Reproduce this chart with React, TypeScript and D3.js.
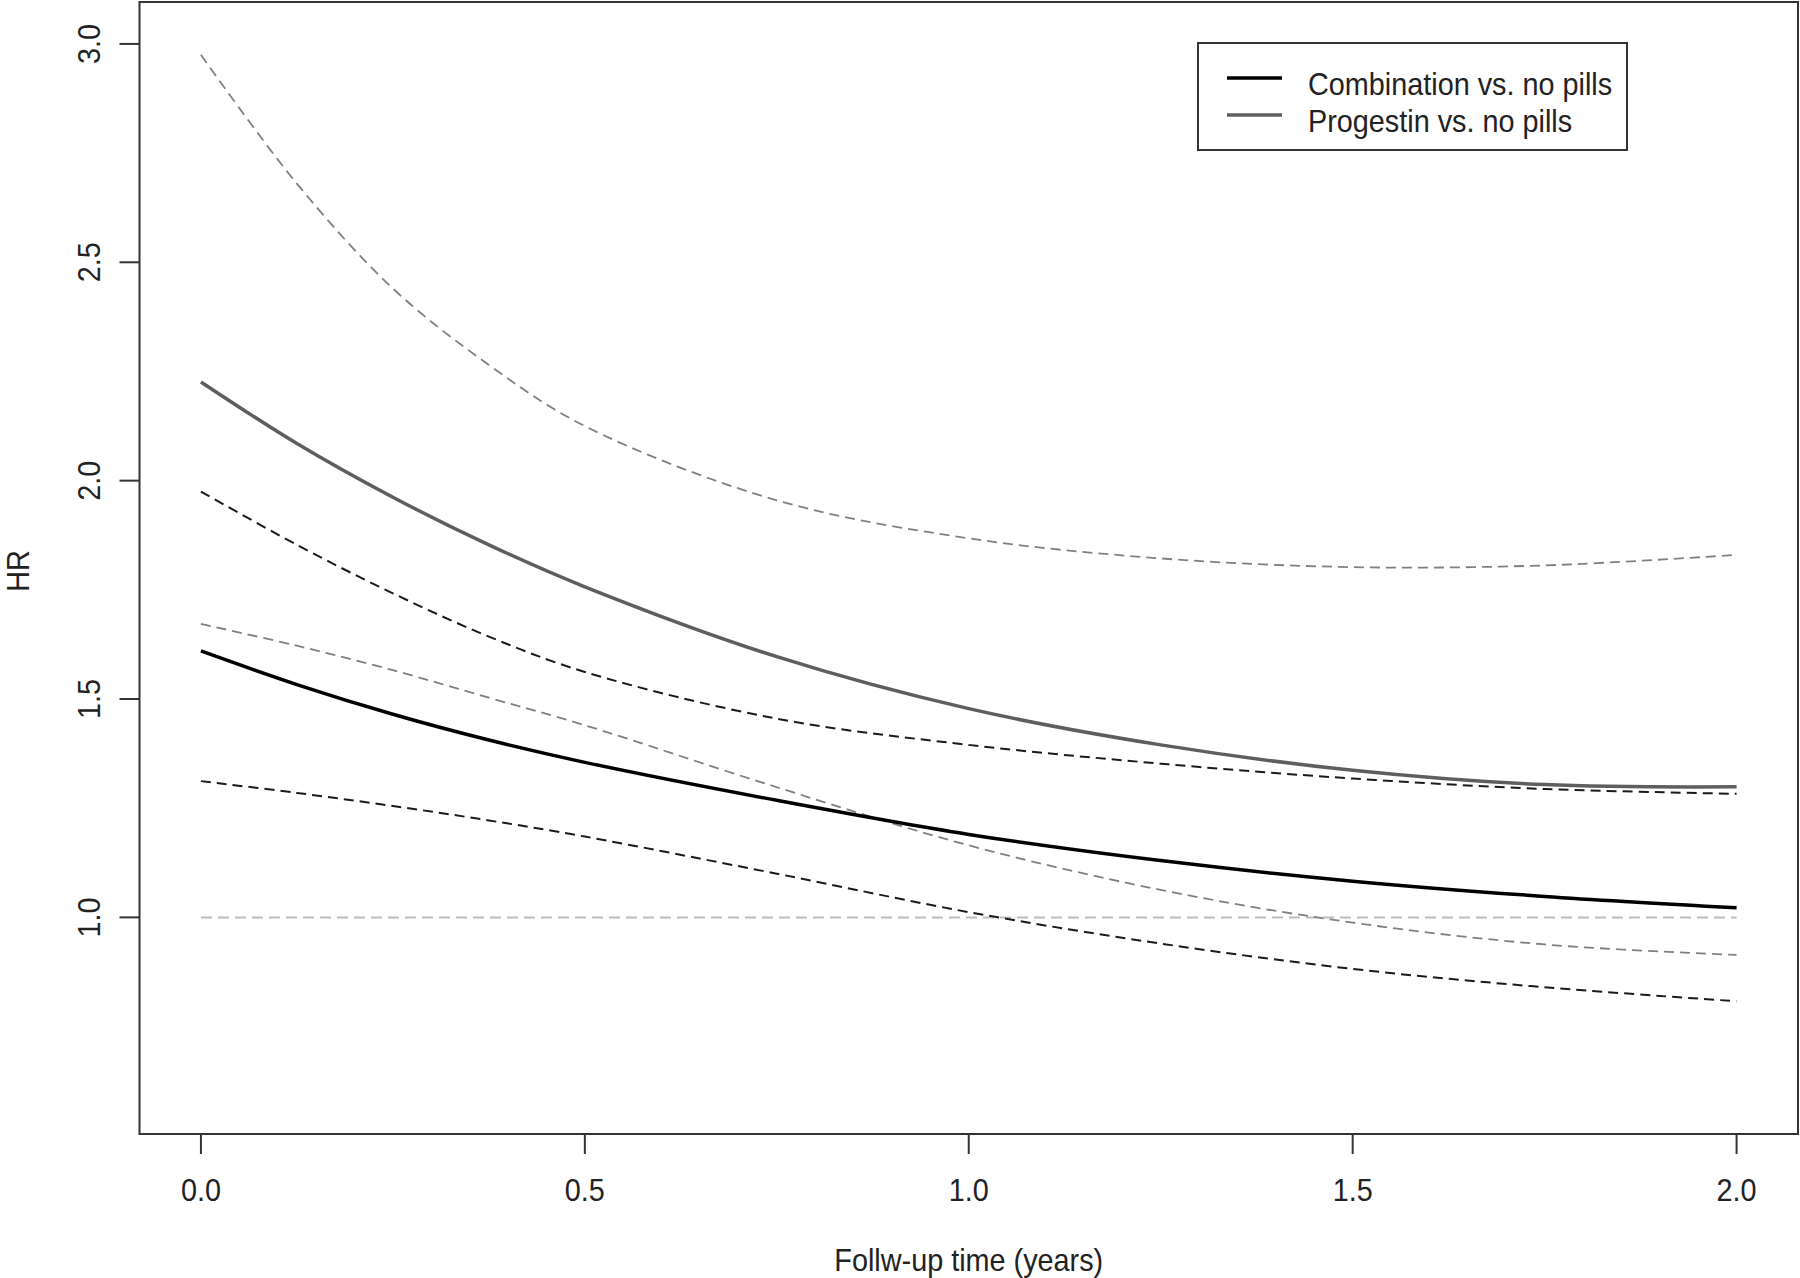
import React from "react";
import * as d3 from "d3";

// ---- data ----
const times = [0, 0.125, 0.25, 0.375, 0.5, 0.75, 1.0, 1.25, 1.5, 1.75, 2.0];
const progestinUpper = [2.975, 2.68, 2.44, 2.265, 2.125, 1.955, 1.868, 1.822, 1.802, 1.806, 1.83];
const progestinHR = [2.226, 2.085, 1.962, 1.853, 1.757, 1.597, 1.478, 1.395, 1.337, 1.304, 1.299];
const combinationUpper = [1.975, 1.853, 1.742, 1.643, 1.562, 1.455, 1.395, 1.352, 1.318, 1.294, 1.283];
const progestinLower = [1.672, 1.622, 1.566, 1.503, 1.44, 1.298, 1.165, 1.063, 0.988, 0.938, 0.914];
const combinationHR = [1.61, 1.533, 1.465, 1.406, 1.355, 1.268, 1.19, 1.13, 1.083, 1.048, 1.022];
const combinationLower = [1.312, 1.285, 1.255, 1.222, 1.185, 1.1, 1.012, 0.94, 0.882, 0.84, 0.808];
const referenceLine = [1.0, 1.0];
const referenceTimes = [0, 2];

const xTicks = [0, 0.5, 1.0, 1.5, 2.0];
const yTicks = [1.0, 1.5, 2.0, 2.5, 3.0];
const legendLabels = ["Combination vs. no pills", "Progestin vs. no pills"];
const xTitle = "Follw-up time (years)";
const yTitle = "HR";

const W = 1800;
const H = 1278;
const plot = { left: 139.5, right: 1798, top: 2, bottom: 1134 };

const FONT = "'Liberation Sans', Arial, Helvetica, sans-serif";
const FS = 32;
const SX = 0.9;

export default function App() {
  const x = d3.scaleLinear().domain([-0.08, 2.08]).range([plot.left, plot.right]);
  const y = d3.scaleLinear().domain([0.504, 3.096]).range([plot.bottom, plot.top]);

  const line = (ts: number[], vs: number[]) =>
    d3
      .line<number>()
      .x((_, i) => x(ts[i]))
      .y((v) => y(v))
      .curve(d3.curveCatmullRom.alpha(0.5))(vs) || "";

  const series = [
    { vals: progestinUpper, stroke: "#808080", width: 1.8, dash: "10 6" },
    { vals: progestinLower, stroke: "#808080", width: 1.8, dash: "10 6" },
    { vals: combinationUpper, stroke: "#1a1a1a", width: 2, dash: "10 6" },
    { vals: combinationLower, stroke: "#1a1a1a", width: 2, dash: "10 6" },
    { vals: progestinHR, stroke: "#5e5e5e", width: 3.5, dash: "" },
    { vals: combinationHR, stroke: "#000000", width: 3.5, dash: "" },
  ];

  const hText = (tx: number, ty: number, s: string, anchor: string, key?: any) => (
    <text
      key={key}
      transform={`translate(${tx},${ty}) scale(${SX},1)`}
      textAnchor={anchor as any}
      fontFamily={FONT}
      fontSize={FS}
      fill="#222"
    >
      {s}
    </text>
  );
  const vText = (tx: number, ty: number, s: string, key?: any) => (
    <text
      key={key}
      transform={`translate(${tx},${ty}) rotate(-90) scale(${SX},1)`}
      textAnchor="middle"
      fontFamily={FONT}
      fontSize={FS}
      fill="#222"
    >
      {s}
    </text>
  );

  const legend = { x: 1198, y: 43, w: 429, h: 107 };
  const legendItems = [
    { label: legendLabels[0], stroke: "#000000", ly: 78, ty: 95 },
    { label: legendLabels[1], stroke: "#5e5e5e", ly: 115, ty: 131.5 },
  ];

  return (
    <svg
      width={W}
      height={H}
      style={{ position: "absolute", left: 0, top: 0, background: "#fff" }}
    >
      <rect x={0} y={0} width={W} height={H} fill="#fff" />

      {/* reference line */}
      <path
        d={line(referenceTimes, referenceLine)}
        fill="none"
        stroke="#bdbdbd"
        strokeWidth={2}
        strokeDasharray="11 6"
      />

      {series.map((s, i) => (
        <path
          key={i}
          d={line(times, s.vals)}
          fill="none"
          stroke={s.stroke}
          strokeWidth={s.width}
          strokeDasharray={s.dash || undefined}
        />
      ))}

      {/* box */}
      <rect
        x={plot.left}
        y={plot.top}
        width={plot.right - plot.left}
        height={plot.bottom - plot.top}
        fill="none"
        stroke="#333"
        strokeWidth={2}
      />

      {/* x axis */}
      {xTicks.map((t, i) => (
        <g key={"xt" + i}>
          <line x1={x(t)} x2={x(t)} y1={plot.bottom} y2={plot.bottom + 20} stroke="#333" strokeWidth={2} />
          {hText(x(t), 1201, t.toFixed(1), "middle")}
        </g>
      ))}

      {/* y axis */}
      {yTicks.map((t, i) => (
        <g key={"yt" + i}>
          <line x1={plot.left - 20} x2={plot.left} y1={y(t)} y2={y(t)} stroke="#333" strokeWidth={2} />
          {vText(99.5, y(t), t.toFixed(1))}
        </g>
      ))}

      {hText((plot.left + plot.right) / 2, 1271, xTitle, "middle")}
      {vText(29, (plot.top + plot.bottom) / 2 + 3, yTitle)}

      {/* legend */}
      <rect x={legend.x} y={legend.y} width={legend.w} height={legend.h} fill="#fff" stroke="#333" strokeWidth={2} />
      {legendItems.map((it, i) => (
        <g key={"lg" + i}>
          <line x1={1227} x2={1282} y1={it.ly} y2={it.ly} stroke={it.stroke} strokeWidth={3.5} />
          {hText(1308, it.ty, it.label, "start")}
        </g>
      ))}
    </svg>
  );
}
